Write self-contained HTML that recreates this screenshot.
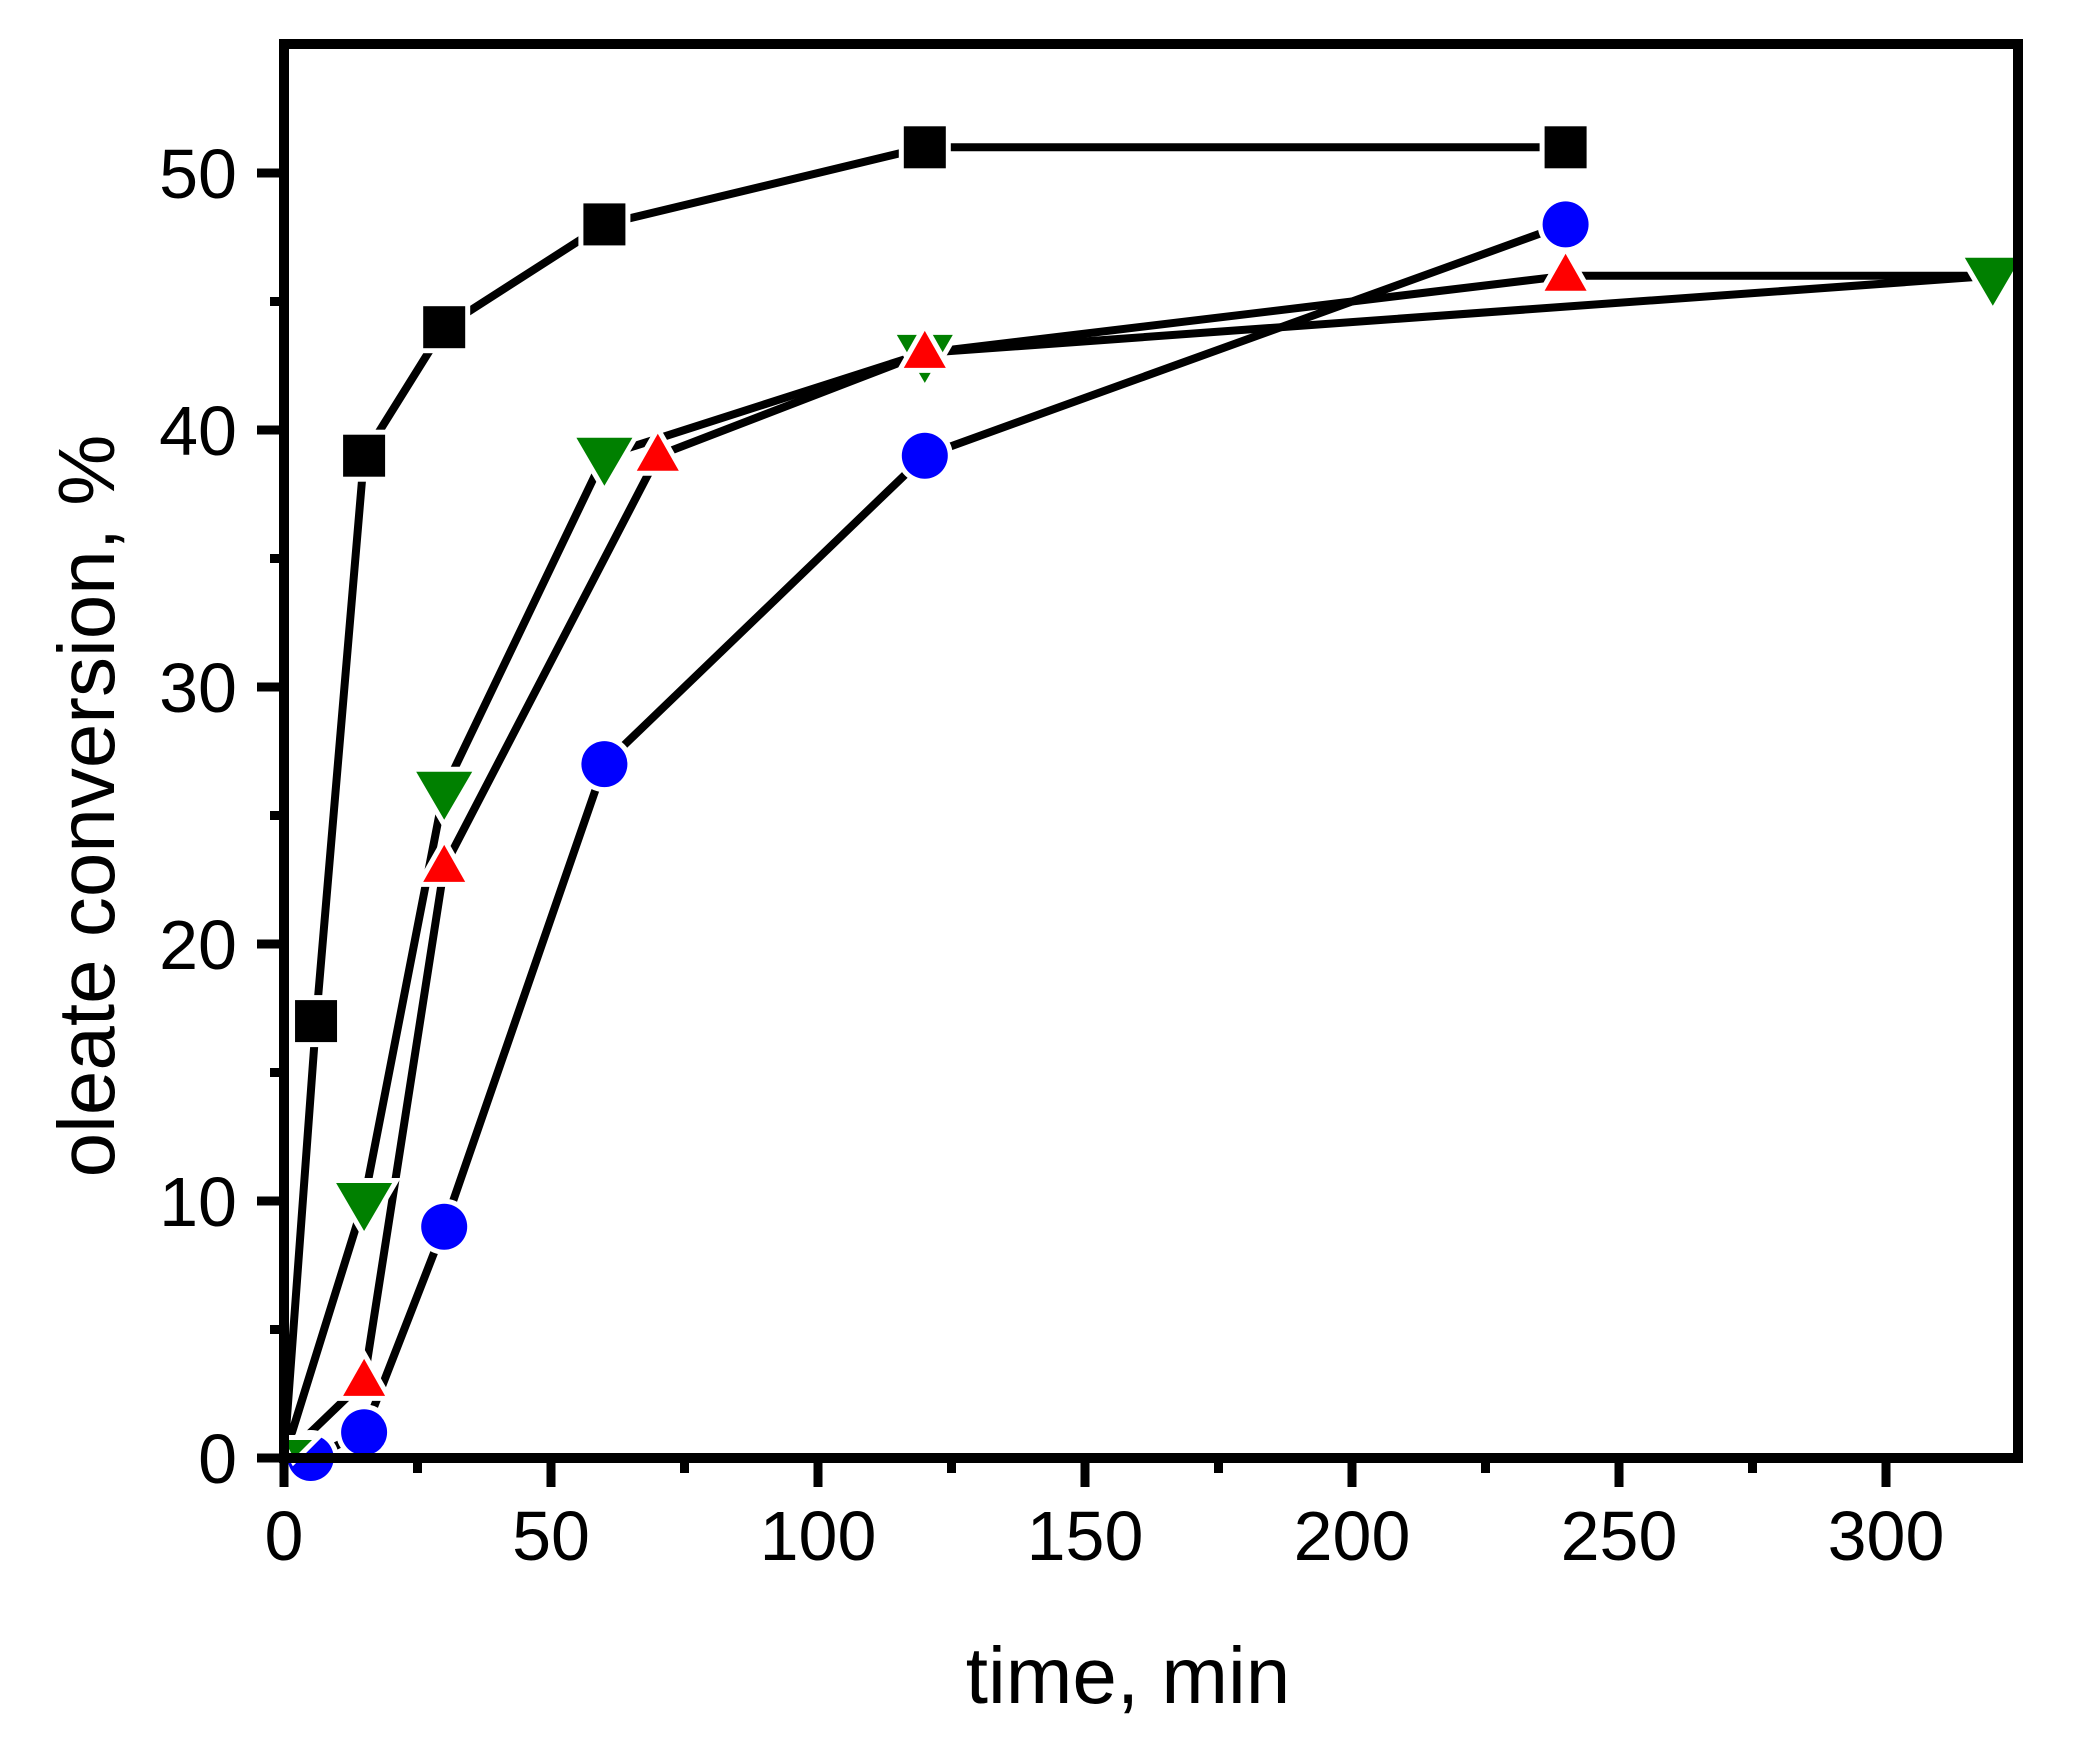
<!DOCTYPE html>
<html><head><style>body{margin:0;background:#fff}svg{display:block}</style></head>
<body>
<svg width="2090" height="1751" xmlns="http://www.w3.org/2000/svg" font-family="Liberation Sans, Arial, sans-serif">
<rect width="2090" height="1751" fill="#fff"/>
<g id="lines" fill="none" stroke="#000" stroke-width="8" stroke-linejoin="round">
</g>
<script>
const X=v=>284+v*5.34, Y=v=>1458-v*25.7;
const S={
 sq:[[0,0],[6,17],[15,39],[30,44],[60,48],[120,51],[240,51]],
 ci:[[0,0],[5,0],[15,1],[30,9],[60,27],[120,39],[240,48]],
 tr:[[0,0],[15,3],[30,23],[70,39],[120,43],[240,46],[320,46]],
 tv:[[0,0],[15,10],[30,26],[60,39],[120,43],[320,46]]};
const ns="http://www.w3.org/2000/svg";
const svg=document.currentScript.parentNode;
const g=svg.querySelector('#lines');
for(const k in S){const p=document.createElementNS(ns,'polyline');p.setAttribute('points',S[k].map(([a,b])=>X(a)+','+Y(b)).join(' '));g.appendChild(p);}
const m=document.createElementNS(ns,'g');m.setAttribute('stroke','#fff');m.setAttribute('stroke-width','10');m.setAttribute('paint-order','stroke');
function add(tag,attrs){const e=document.createElementNS(ns,tag);for(const a in attrs)e.setAttribute(a,attrs[a]);m.appendChild(e);}
S.sq.slice(1).forEach(([a,b])=>add('rect',{x:X(a)-21,y:Y(b)-21,width:42,height:42,fill:'#000'}));
S.tv.slice(1).forEach(([a,b])=>{const x=X(a),y=Y(b);add('polygon',{points:`${x-28},${y-18} ${x+28},${y-18} ${x},${y+30}`,fill:'#008000'})});
S.tr.slice(1,6).forEach(([a,b])=>{const x=X(a),y=Y(b);add('polygon',{points:`${x-21},${y+15} ${x+21},${y+15} ${x},${y-22}`,fill:'#ff0000'})});
S.ci.slice(1).forEach(([a,b])=>add('circle',{cx:X(a),cy:Y(b),r:23,fill:'#0000ff'}));
add('polygon',{points:`${X(0)},${Y(0)-18} ${X(0)+28},${Y(0)-18} ${X(0)+10},${Y(0)}`,fill:'#008000'});
svg.appendChild(m);
</script>
<g stroke="#000" stroke-width="10" fill="none">
<rect x="284" y="44" width="1734" height="1414"/>
</g>
<g stroke="#000" stroke-width="9">
<line x1="284" y1="1458" x2="284" y2="1487"/><line x1="551" y1="1458" x2="551" y2="1487"/><line x1="818" y1="1458" x2="818" y2="1487"/><line x1="1085" y1="1458" x2="1085" y2="1487"/><line x1="1352" y1="1458" x2="1352" y2="1487"/><line x1="1619" y1="1458" x2="1619" y2="1487"/><line x1="1886" y1="1458" x2="1886" y2="1487"/>
<line x1="417.5" y1="1458" x2="417.5" y2="1473"/><line x1="684.5" y1="1458" x2="684.5" y2="1473"/><line x1="951.5" y1="1458" x2="951.5" y2="1473"/><line x1="1218.5" y1="1458" x2="1218.5" y2="1473"/><line x1="1485.5" y1="1458" x2="1485.5" y2="1473"/><line x1="1752.5" y1="1458" x2="1752.5" y2="1473"/>
<line x1="257" y1="1458" x2="284" y2="1458"/><line x1="257" y1="1201" x2="284" y2="1201"/><line x1="257" y1="944" x2="284" y2="944"/><line x1="257" y1="687" x2="284" y2="687"/><line x1="257" y1="430" x2="284" y2="430"/><line x1="257" y1="173" x2="284" y2="173"/>
<line x1="270" y1="1329.5" x2="284" y2="1329.5"/><line x1="270" y1="1072.5" x2="284" y2="1072.5"/><line x1="270" y1="815.5" x2="284" y2="815.5"/><line x1="270" y1="558.5" x2="284" y2="558.5"/><line x1="270" y1="301.5" x2="284" y2="301.5"/>
</g>
<g font-size="70" fill="#000" text-anchor="middle">
<text x="284" y="1560">0</text><text x="551" y="1560">50</text><text x="818" y="1560">100</text><text x="1085" y="1560">150</text><text x="1352" y="1560">200</text><text x="1619" y="1560">250</text><text x="1886" y="1560">300</text>
</g>
<g font-size="70" fill="#000" text-anchor="end">
<text x="237" y="1483">0</text><text x="237" y="1226">10</text><text x="237" y="969">20</text><text x="237" y="712">30</text><text x="237" y="455">40</text><text x="237" y="198">50</text>
</g>
<text x="1128" y="1703" font-size="80" text-anchor="middle">time, min</text>
<text transform="translate(114,806) rotate(-90)" font-size="80" text-anchor="middle">oleate conversion, %</text>
</svg>
</body></html>
